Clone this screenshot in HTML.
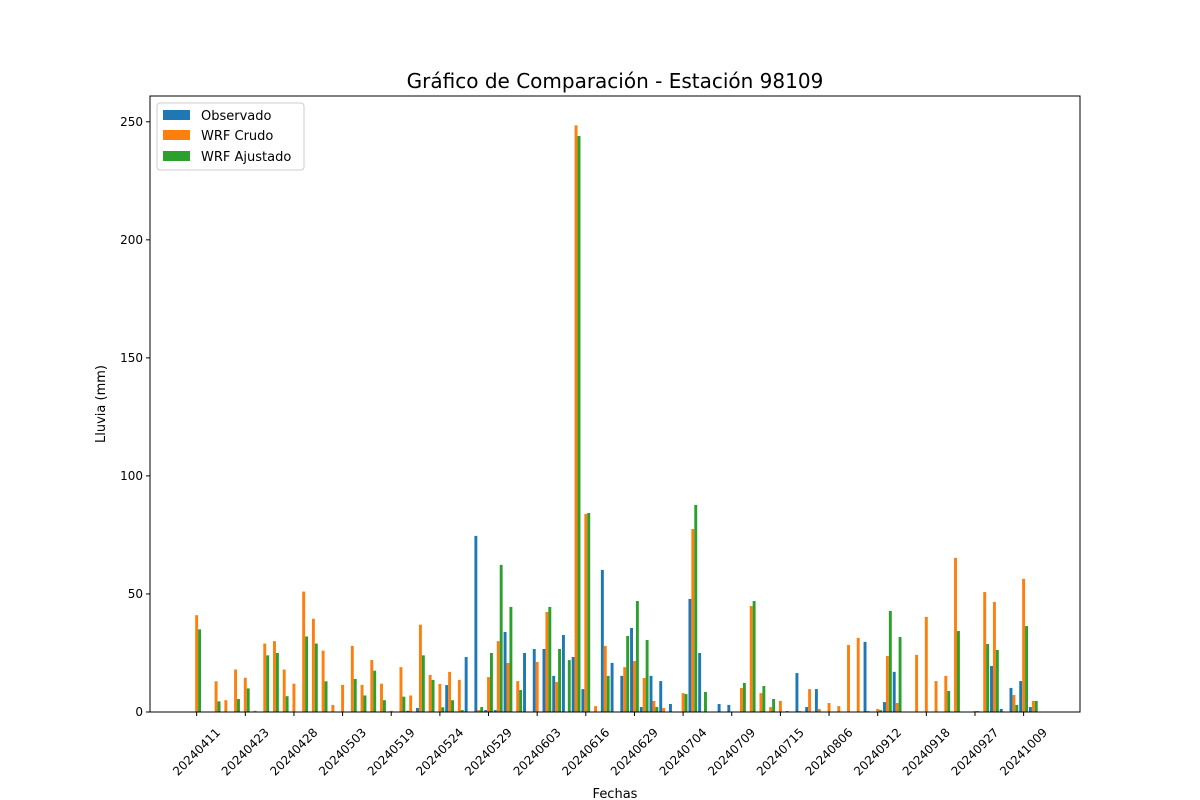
<!DOCTYPE html>
<html><head><meta charset="utf-8"><style>
body{margin:0;background:#fff;font-family:"DejaVu Sans","Liberation Sans",sans-serif}
svg{display:block}
</style></head><body>
<svg id="chart" width="1200" height="800" xmlns="http://www.w3.org/2000/svg" font-family="DejaVu Sans, Liberation Sans, sans-serif">
<rect width="1200" height="800" fill="#fff"/>
<text x="615" y="88" font-size="20" text-anchor="middle" fill="#000">Gráfico de Comparación - Estación 98109</text>
<text x="615" y="798" font-size="13" text-anchor="middle">Fechas</text>
<text x="105" y="404" font-size="13" text-anchor="middle" transform="rotate(-90 105 404)">Lluvia (mm)</text>
<g id="bars"></g>
<g id="axes"></g>
<g>
<rect x="157" y="103" width="147" height="67" rx="3" fill="#fff" stroke="#ccc"/>
<rect x="163" y="110" width="27" height="10" fill="#1f77b4"/>
<text x="201" y="120" font-size="13">Observado</text>
<rect x="163" y="130" width="27" height="10" fill="#ff7f0e"/>
<text x="201" y="140" font-size="13">WRF Crudo</text>
<rect x="163" y="151" width="27" height="10" fill="#2ca02c"/>
<text x="201" y="161" font-size="13">WRF Ajustado</text>
</g>
</svg>
<script>
const observado=[0,0,0,0,0,0,0,0,0,0,0,0,0,0,0,0,0,0,0,0,0,0,0.5,1.7,0,0,11.4,0,23.3,74.6,0.8,0.8,33.9,0,25,26.7,26.7,15.3,32.6,23.3,9.7,0,60.2,20.8,15.3,35.6,2.1,15.3,13.1,3.4,0,47.9,25,0,3.4,3,0,0,0,0,0,0.4,16.5,2.1,9.7,0,0,0,0,29.7,0,4.2,17,0,0,0,0,0,0,0,0,0,19.5,1.3,10.2,13.1,2.1];
const wrfCrudo=[41,0,13,5,18,14.5,0.5,29,30,18,12,51,39.5,26,3,11.5,28,11.5,22,12,0.5,19,7,37,15.7,11.9,17,13.6,0,0.8,14.8,30,20.8,13.1,0,21.2,42.4,12.7,0,248.5,83.9,2.5,28,0,19,21.6,14.4,4.7,1.7,0,8,77.5,0,0,0,0,10.2,44.9,8,2.1,4.7,0,0.4,9.7,1.3,3.8,2.5,28.4,31.4,0.4,1.3,23.7,3.8,0,24.2,40.3,13.1,15.3,65.3,0,0.4,50.8,46.6,0,7.2,56.4,4.7];
const wrfAjustado=[35,0,4.5,0,5.5,10,0,24,25,6.7,0,32,29,13,0,0,14,7,17.5,5,0,6.5,0,24,13.6,2,5,0.8,0,2.1,25,62.3,44.5,9.3,0,0,44.5,26.7,22,244,84.3,0,15.3,0,32.2,47,30.5,2.1,0,0,7.6,87.7,8.5,0,0,0,12.3,47,11,5.5,0,0,0,0,0,0,0,0,0,0,0.8,42.8,31.8,0,0,0,0,8.9,34.3,0,0.4,28.8,26.3,0,3,36.4,4.7];
const tickLabels=["20240411","20240423","20240428","20240503","20240519","20240524","20240529","20240603","20240616","20240629","20240704","20240709","20240715","20240806","20240912","20240918","20240927","20241009"];
const yTicks=[0,50,100,150,200,250];

const NS="http://www.w3.org/2000/svg";
const L=150,R=1080,T=96,B=712;
const N=observado.length, W=0.3;
const span=(N-1)+3*W, xmin=-1.5*W-span*0.05, xmax=N-1+1.5*W+span*0.05;
const ymax=Math.max(...observado,...wrfCrudo,...wrfAjustado)*1.05;
function xs(v){return L+(v-xmin)/(xmax-xmin)*(R-L);}
function ys(v){return B-v/ymax*(B-T);}
function mk(tag,attrs,parent){const e=document.createElementNS(NS,tag);for(const k in attrs)e.setAttribute(k,attrs[k]);parent.appendChild(e);return e;}
const bars=document.getElementById('bars'), axes=document.getElementById('axes');
const series=[[observado,'#1f77b4',-1,'bar-observado'],[wrfCrudo,'#ff7f0e',0,'bar-wrf-crudo'],[wrfAjustado,'#2ca02c',1,'bar-wrf-ajustado']];
series.forEach(([vals,col,off,nm])=>{
  vals.forEach((v,i)=>{
    if(v<=0)return;
    const x0=xs(i+off*W-W/2), x1=xs(i+off*W+W/2);
    const r=mk('rect',{x:x0,y:ys(v),width:x1-x0,height:ys(0)-ys(v),fill:col},bars);
    
    
  });
});
const frame=mk('rect',{x:L,y:T,width:R-L,height:B-T,fill:'none',stroke:'#000','stroke-width':1},axes);


yTicks.forEach(t=>{
  const y=ys(t);
  const ln=mk('line',{x1:L-4,x2:L,y1:y,y2:y,stroke:'#000'},axes);
  
  
  const tx=mk('text',{x:L-7,y:y+4,'font-size':12,'text-anchor':'end'},axes);
  tx.textContent=t;
  
  
});
tickLabels.forEach((lab,k)=>{
  const x=xs(k*5);
  const ln=mk('line',{x1:x,x2:x,y1:B,y2:B+4,stroke:'#000'},axes);
  
  
  const cy=B+40;
  const tx=mk('text',{x:x,y:cy+4,'font-size':12,'text-anchor':'middle',transform:`rotate(-45 ${x} ${cy})`},axes);
  tx.textContent=lab;
  
  
});
</script>
</body></html>
